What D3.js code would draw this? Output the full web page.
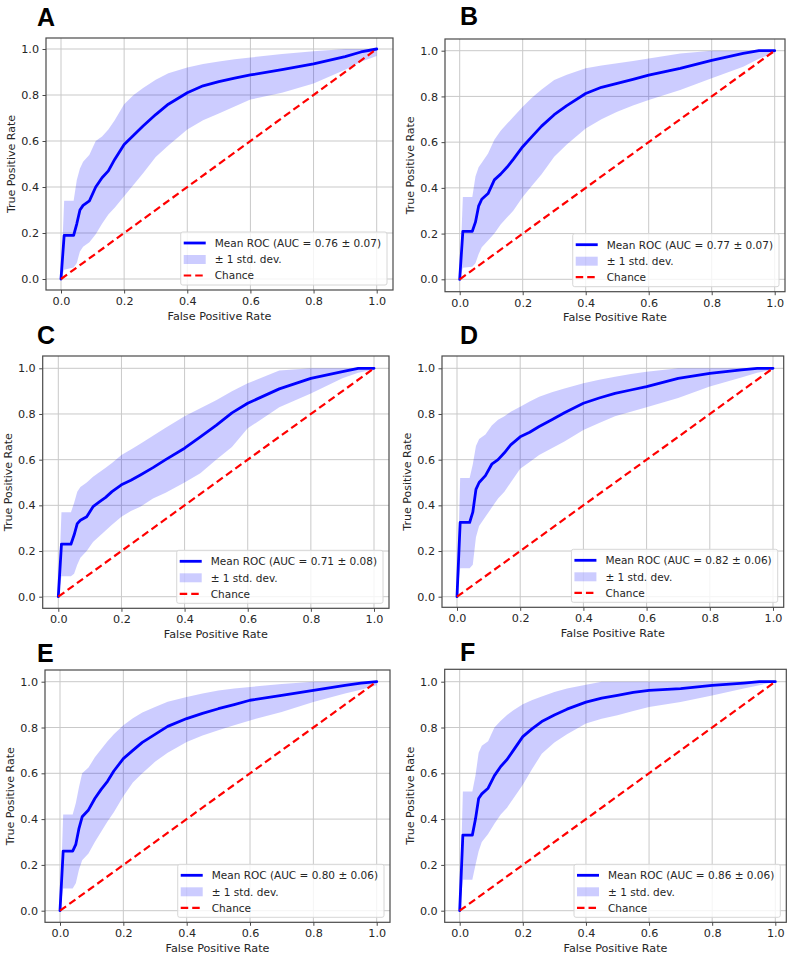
<!DOCTYPE html>
<html><head><meta charset="utf-8">
<script src="https://cdn.jsdelivr.net/npm/d3@7"></script>
<style>body{margin:0;background:#fff} svg{display:block}</style>
</head><body>
<svg id="chart" width="794" height="954"></svg>
<script>
// ---------------- DATA ----------------
const panelLetters = ["A", "B", "C", "D", "E", "F"];
const aucLabels = ["0.76 ± 0.07", "0.77 ± 0.07", "0.71 ± 0.08", "0.82 ± 0.06", "0.80 ± 0.06", "0.86 ± 0.06"];
const tickValues = [0, 0.2, 0.4, 0.6, 0.8, 1.0];
const tickLabels = ["0.0", "0.2", "0.4", "0.6", "0.8", "1.0"];
const legendLabels = ["Mean ROC", "± 1 std. dev.", "Chance"];
const chanceFpr = [0, 1];
const chanceTpr = [0, 1];

const fpr = [0, 0.01, 0.04, 0.05, 0.06, 0.07, 0.09, 0.11, 0.13, 0.15, 0.17, 0.2, 0.23, 0.26, 0.3, 0.34, 0.4, 0.45, 0.5, 0.55, 0.6, 0.7, 0.8, 0.9, 0.95, 1.0];

const meanA  = [0, 0.19, 0.19, 0.24, 0.30, 0.32, 0.34, 0.40, 0.44, 0.47, 0.52, 0.585, 0.625, 0.665, 0.715, 0.76, 0.81, 0.84, 0.858, 0.873, 0.887, 0.91, 0.935, 0.967, 0.987, 1.0];
const lowerA = [0, 0.04, 0.05, 0.07, 0.12, 0.14, 0.16, 0.195, 0.24, 0.28, 0.31, 0.36, 0.41, 0.46, 0.53, 0.58, 0.65, 0.69, 0.72, 0.75, 0.78, 0.81, 0.85, 0.91, 0.945, 0.97];
const upperA = [0, 0.34, 0.34, 0.43, 0.48, 0.51, 0.54, 0.60, 0.62, 0.65, 0.69, 0.76, 0.80, 0.83, 0.866, 0.895, 0.92, 0.935, 0.946, 0.955, 0.963, 0.978, 0.99, 1.0, 1.0, 1.0];

const meanB  = [0, 0.21, 0.21, 0.25, 0.32, 0.35, 0.375, 0.435, 0.46, 0.49, 0.525, 0.58, 0.625, 0.67, 0.72, 0.76, 0.813, 0.84, 0.857, 0.875, 0.893, 0.923, 0.958, 0.988, 1.0, 1.0];
const lowerB = [0, 0.05, 0.055, 0.07, 0.11, 0.14, 0.17, 0.20, 0.24, 0.27, 0.30, 0.36, 0.41, 0.46, 0.536, 0.59, 0.66, 0.70, 0.733, 0.76, 0.784, 0.828, 0.879, 0.93, 0.965, 0.99];
const upperB = [0, 0.36, 0.36, 0.45, 0.49, 0.51, 0.55, 0.61, 0.65, 0.68, 0.71, 0.755, 0.795, 0.83, 0.872, 0.895, 0.923, 0.935, 0.945, 0.955, 0.966, 0.988, 1.0, 1.0, 1.0, 1.0];

const meanC  = [0, 0.23, 0.23, 0.27, 0.32, 0.335, 0.35, 0.394, 0.415, 0.435, 0.46, 0.49, 0.51, 0.533, 0.565, 0.60, 0.65, 0.70, 0.75, 0.805, 0.847, 0.91, 0.956, 0.985, 1.0, 1.0];
const lowerC = [0, 0.09, 0.09, 0.10, 0.14, 0.17, 0.20, 0.24, 0.265, 0.29, 0.315, 0.35, 0.375, 0.394, 0.43, 0.455, 0.50, 0.54, 0.60, 0.655, 0.737, 0.83, 0.89, 0.956, 0.98, 0.995];
const upperC = [0, 0.37, 0.37, 0.41, 0.46, 0.48, 0.50, 0.525, 0.545, 0.565, 0.585, 0.62, 0.645, 0.67, 0.705, 0.74, 0.79, 0.825, 0.86, 0.90, 0.934, 0.99, 1.0, 1.0, 1.0, 1.0];

const meanD  = [0, 0.325, 0.325, 0.37, 0.47, 0.50, 0.53, 0.58, 0.60, 0.63, 0.665, 0.70, 0.72, 0.745, 0.775, 0.805, 0.847, 0.87, 0.89, 0.905, 0.92, 0.956, 0.978, 0.993, 1.0, 1.0];
const lowerD = [0, 0.125, 0.125, 0.14, 0.26, 0.31, 0.35, 0.39, 0.43, 0.46, 0.50, 0.56, 0.59, 0.62, 0.65, 0.68, 0.73, 0.76, 0.79, 0.81, 0.83, 0.87, 0.92, 0.96, 0.98, 0.995];
const upperD = [0, 0.52, 0.52, 0.58, 0.66, 0.69, 0.71, 0.75, 0.775, 0.79, 0.81, 0.832, 0.855, 0.875, 0.895, 0.912, 0.934, 0.95, 0.963, 0.975, 0.985, 1.0, 1.0, 1.0, 1.0, 1.0];

const meanE  = [0, 0.26, 0.26, 0.29, 0.36, 0.41, 0.44, 0.49, 0.53, 0.565, 0.61, 0.664, 0.70, 0.735, 0.77, 0.805, 0.839, 0.862, 0.882, 0.90, 0.919, 0.94, 0.962, 0.984, 0.994, 1.0];
const lowerE = [0, 0.097, 0.097, 0.12, 0.18, 0.22, 0.25, 0.30, 0.345, 0.39, 0.43, 0.50, 0.56, 0.60, 0.65, 0.69, 0.737, 0.765, 0.788, 0.81, 0.831, 0.868, 0.911, 0.948, 0.965, 0.985];
const upperE = [0, 0.42, 0.42, 0.47, 0.54, 0.60, 0.625, 0.67, 0.705, 0.74, 0.77, 0.81, 0.84, 0.866, 0.89, 0.912, 0.933, 0.948, 0.962, 0.97, 0.977, 0.99, 1.0, 1.0, 1.0, 1.0];

const meanF  = [0, 0.33, 0.33, 0.40, 0.49, 0.51, 0.535, 0.59, 0.63, 0.66, 0.70, 0.76, 0.795, 0.826, 0.855, 0.88, 0.911, 0.928, 0.94, 0.953, 0.962, 0.97, 0.984, 0.994, 1.0, 1.0];
const lowerF = [0, 0.135, 0.135, 0.20, 0.26, 0.30, 0.335, 0.38, 0.42, 0.45, 0.49, 0.55, 0.62, 0.685, 0.735, 0.77, 0.817, 0.838, 0.853, 0.872, 0.89, 0.911, 0.94, 0.97, 0.985, 1.0];
const upperF = [0, 0.52, 0.52, 0.59, 0.69, 0.72, 0.74, 0.80, 0.83, 0.855, 0.875, 0.902, 0.92, 0.935, 0.955, 0.97, 0.987, 1.0, 1.0, 1.0, 1.0, 1.0, 1.0, 1.0, 1.0, 1.0];

const means  = [meanA, meanB, meanC, meanD, meanE, meanF];
const lowers = [lowerA, lowerB, lowerC, lowerD, lowerE, lowerF];
const uppers = [upperA, upperB, upperC, upperD, upperE, upperF];

// ---------------- LAYOUT ----------------
// pixel positions of data 0 / 1 and of the axes frame, per panel
const layout = [
  {x0: 61,    x1: 376.7, y0: 279,   y1: 49,    L: 46,    R: 393,   T: 38,    B: 290,   lx: 37,  ly: 25},
  {x0: 459.7, x1: 774.7, y0: 279.3, y1: 50.7,  L: 445,   R: 785,   T: 39,    B: 291.7, lx: 460, ly: 24},
  {x0: 58.3,  x1: 374,   y0: 596.7, y1: 368.3, L: 42.7,  R: 389,   T: 356,   B: 608.3, lx: 37,  ly: 343},
  {x0: 457,   x1: 773,   y0: 596.7, y1: 368.3, L: 442,   R: 783.7, T: 356,   B: 607.3, lx: 460, ly: 343},
  {x0: 60,    x1: 376.7, y0: 910.7, y1: 681.7, L: 45,    R: 390,   T: 670,   B: 922.3, lx: 37,  ly: 661},
  {x0: 459.7, x1: 775.3, y0: 910.7, y1: 681.7, L: 444.7, R: 786.3, T: 669.3, B: 922.3, lx: 460, ly: 660}
];

const FONT = "'DejaVu Sans', sans-serif";
const TXT = "#262626";
const svg = d3.select("#chart");
svg.append("rect").attr("width", 794).attr("height", 954).attr("fill", "#fff");

layout.forEach((p, i) => {
  const x = d3.scaleLinear().domain([0, 1]).range([p.x0, p.x1]);
  const y = d3.scaleLinear().domain([0, 1]).range([p.y0, p.y1]);
  const g = svg.append("g");

  const clipId = "clip" + i;
  g.append("clipPath").attr("id", clipId)
    .append("rect").attr("x", p.L).attr("y", p.T).attr("width", p.R - p.L).attr("height", p.B - p.T);

  // grid
  const grid = g.append("g");
  tickValues.forEach(t => {
    grid.append("line").attr("x1", x(t)).attr("x2", x(t)).attr("y1", p.T).attr("y2", p.B)
      .attr("stroke", "#c9c9c9").attr("stroke-width", 1);
    grid.append("line").attr("y1", y(t)).attr("y2", y(t)).attr("x1", p.L).attr("x2", p.R)
      .attr("stroke", "#c9c9c9").attr("stroke-width", 1);
  });

  const plot = g.append("g").attr("clip-path", `url(#${clipId})`);
  const idx = d3.range(fpr.length);

  // std band
  const area = d3.area()
    .x(k => x(fpr[k]))
    .y0(k => y(lowers[i][k]))
    .y1(k => y(uppers[i][k]));
  plot.append("path").datum(idx).attr("d", area)
    .attr("fill", "#0000ff").attr("fill-opacity", 0.2).attr("stroke", "none");

  // mean ROC
  const line = d3.line().x(k => x(fpr[k])).y(k => y(means[i][k]));
  plot.append("path").datum(idx).attr("d", line)
    .attr("fill", "none").attr("stroke", "#0000ff").attr("stroke-width", 2.8)
    .attr("stroke-linejoin", "round").attr("stroke-linecap", "round");

  // chance
  const cline = d3.line().x(k => x(chanceFpr[k])).y(k => y(chanceTpr[k]));
  plot.append("path").datum([0, 1]).attr("d", cline)
    .attr("fill", "none").attr("stroke", "#ff0000").attr("stroke-width", 2.2)
    .attr("stroke-dasharray", "7.5,4");

  // frame
  g.append("rect").attr("x", p.L).attr("y", p.T).attr("width", p.R - p.L).attr("height", p.B - p.T)
    .attr("fill", "none").attr("stroke", "#4a4a4a").attr("stroke-width", 1.2);

  // axes
  const xAxis = d3.axisBottom(x).tickValues(tickValues).tickFormat((d, k) => tickLabels[k])
    .tickSize(3.5).tickPadding(3.5);
  const xa = g.append("g").attr("transform", `translate(0,${p.B})`).call(xAxis);
  const yAxis = d3.axisLeft(y).tickValues(tickValues).tickFormat((d, k) => tickLabels[k])
    .tickSize(3.5).tickPadding(3.5);
  const ya = g.append("g").attr("transform", `translate(${p.L},0)`).call(yAxis);
  [xa, ya].forEach(a => {
    a.select(".domain").remove();
    a.selectAll(".tick line").attr("stroke", "#4a4a4a").attr("stroke-width", 1);
    a.selectAll(".tick text").attr("font-family", FONT).attr("font-size", 11.2).attr("fill", TXT);
  });

  // axis labels
  g.append("text").attr("x", (p.L + p.R) / 2).attr("y", p.B + 29.5)
    .attr("text-anchor", "middle").attr("font-family", FONT).attr("font-size", 11.2).attr("fill", TXT)
    .text("False Positive Rate");
  g.append("text").attr("transform", `translate(${p.L - 31},${(p.T + p.B) / 2}) rotate(-90)`)
    .attr("text-anchor", "middle").attr("font-family", FONT).attr("font-size", 11).attr("fill", TXT)
    .text("True Positive Rate");

  // panel letter
  g.append("text").attr("x", p.lx).attr("y", p.ly + 1)
    .attr("font-family", "'Liberation Sans', Arial, sans-serif").attr("font-weight", 700)
    .attr("font-size", 25).attr("fill", "#000").text(panelLetters[i]);

  // legend
  const lg = g.append("g");
  const labels = [`${legendLabels[0]} (AUC = ${aucLabels[i]})`, legendLabels[1], legendLabels[2]];
  const tmp = lg.append("text").attr("font-family", FONT).attr("font-size", 10.5).text(labels[0]);
  const tw = tmp.node().getComputedTextLength();
  tmp.remove();
  const lw = 3 + 22 + 9 + tw + 6;
  const lh = 53;
  const lxr = p.R - 6 - lw, lyt = p.B - 5 - lh;
  lg.append("rect").attr("x", lxr).attr("y", lyt).attr("width", lw).attr("height", lh)
    .attr("rx", 2).attr("fill", "#fff").attr("fill-opacity", 0.8)
    .attr("stroke", "#d6d6d6").attr("stroke-width", 1);
  const rows = [lyt + 11, lyt + 27.5, lyt + 43.5];
  lg.append("line").attr("x1", lxr + 3).attr("x2", lxr + 25).attr("y1", rows[0]).attr("y2", rows[0])
    .attr("stroke", "#0000ff").attr("stroke-width", 2.8);
  lg.append("rect").attr("x", lxr + 3).attr("y", rows[1] - 4.5).attr("width", 22).attr("height", 9)
    .attr("fill", "#0000ff").attr("fill-opacity", 0.2);
  lg.append("line").attr("x1", lxr + 3).attr("x2", lxr + 25).attr("y1", rows[2]).attr("y2", rows[2])
    .attr("stroke", "#ff0000").attr("stroke-width", 2.2).attr("stroke-dasharray", "7.5,4");
  labels.forEach((t, k) => {
    lg.append("text").attr("x", lxr + 34).attr("y", rows[k] + 3.8)
      .attr("font-family", FONT).attr("font-size", 10.5).attr("fill", TXT).text(t);
  });
});
</script>
</body></html>
